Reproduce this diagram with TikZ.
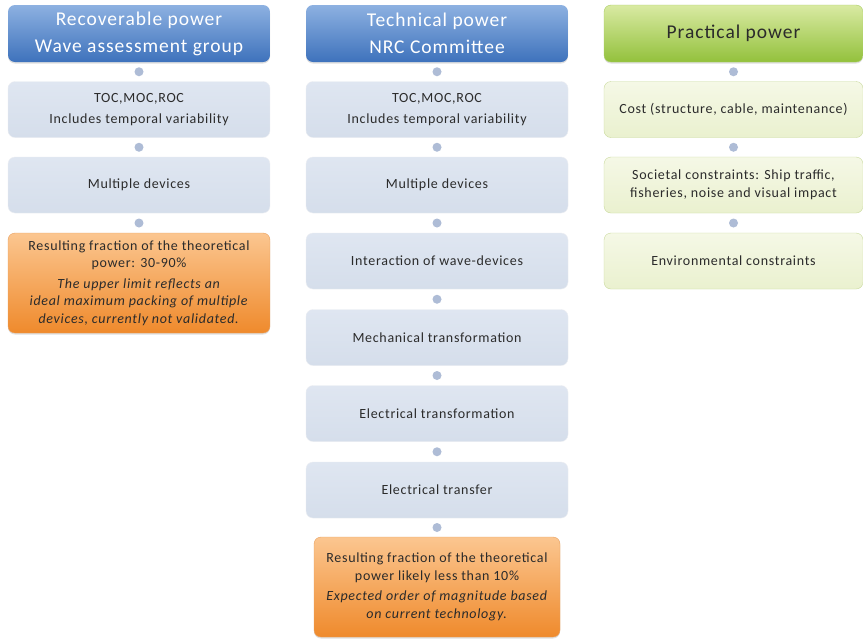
\documentclass[tikz,border=0pt]{standalone}
\usepackage{fontspec}
\setmainfont{Carlito}
\usetikzlibrary{shadows}
\definecolor{hdtop}{HTML}{8DB1E1}
\definecolor{hdbot}{HTML}{3E72BC}
\definecolor{grtop}{HTML}{D9EAA3}
\definecolor{grbot}{HTML}{93C13C}
\definecolor{lbfill}{HTML}{D5DEEB}
\definecolor{lbtop}{HTML}{DFE6F1}
\definecolor{lgtop}{HTML}{F5F8E6}
\definecolor{lgbot}{HTML}{EAF1CF}
\definecolor{lgline}{HTML}{C9DA9C}
\definecolor{ortop}{HTML}{FBC690}
\definecolor{orbot}{HTML}{EF8A2C}
\definecolor{orline}{HTML}{E8A060}
\definecolor{dotc}{HTML}{AEBCD6}
\definecolor{txt}{HTML}{2B2B2B}
\newcommand{\headfont}{\fontsize{19.5}{27}\selectfont\addfontfeatures{LetterSpace=5}}
\newcommand{\bodyfont}{\fontsize{14}{21}\selectfont\addfontfeatures{LetterSpace=5}}
\newcommand{\notefont}{\fontsize{14}{17.5}\selectfont\addfontfeatures{LetterSpace=5}}
\tikzset{
  base/.style={rounded corners=7pt, align=center, text=txt, inner sep=2pt},
  header/.style={base, top color=hdtop, bottom color=hdbot, text=white,
    minimum width=262pt, minimum height=57pt, font=\headfont,
    drop shadow={shadow xshift=0pt, shadow yshift=-1.5pt, opacity=0.25}},
  gheader/.style={base, top color=grtop, bottom color=grbot, draw=grbot!80!white,
    minimum width=259pt, minimum height=57pt, font=\headfont,
    drop shadow={shadow xshift=0pt, shadow yshift=-1.5pt, opacity=0.25}},
  bluebox/.style={base, top color=lbtop, bottom color=lbfill, draw=lbfill!90!black!30!white,
    minimum width=262pt, minimum height=56pt, font=\bodyfont},
  greenbox/.style={base, top color=lgtop, bottom color=lgbot, draw=lgline,
    minimum width=259pt, minimum height=56pt, font=\notefont},
  orangebox/.style={base, top color=ortop, bottom color=orbot, draw=orline,
    font=\notefont,
    drop shadow={shadow xshift=0pt, shadow yshift=-1.5pt, opacity=0.25}},
  joint/.style={circle, fill=dotc, minimum size=9pt, inner sep=0pt}
}
\begin{document}
\begin{tikzpicture}[x=1pt,y=-1pt]
\useasboundingbox[fill=white] (0,0) rectangle (863,638);

% Left column: recoverable power
\node[header] (r0) at (139,33.5) {Recoverable power\\Wave assessment group};
\node[bluebox] (r1) at (139,109.5) {TOC,MOC,ROC\\Includes temporal variability};
\node[bluebox] (r2) at (139,185) {Multiple devices};
\node[orangebox, minimum width=262pt, minimum height=100pt] (r3) at (139,283)
  {Resulting fraction of the theoretical\\power: 30-90\%\\[3pt]
   \textit{The upper limit reflects an}\\\textit{ideal maximum packing of multiple}\\\textit{devices, currently not validated.}};

% Middle column: technical power
\node[header] (t0) at (437,33.5) {Technical power\\NRC Committee};
\node[bluebox] (t1) at (437,109.5) {TOC,MOC,ROC\\Includes temporal variability};
\node[bluebox] (t2) at (437,185) {Multiple devices};
\node[bluebox] (t3) at (437,261) {Interaction of wave-devices};
\node[bluebox] (t4) at (437,337.5) {Mechanical transformation};
\node[bluebox] (t5) at (437,413.5) {Electrical transformation};
\node[bluebox] (t6) at (437,490) {Electrical transfer};
\node[orangebox, minimum width=246pt, minimum height=100pt] (t7) at (437,587)
  {Resulting fraction of the theoretical\\power likely less than 10\%\\[3pt]
   \textit{Expected order of magnitude based}\\\textit{on current technology.}};

% Right column: practical power
\node[gheader] (p0) at (733.5,33.5) {Practical power};
\node[greenbox] (p1) at (733.5,109.5) {Cost (structure, cable, maintenance)};
\node[greenbox] (p2) at (733.5,185) {Societal constraints: Ship traffic,\\fisheries, noise and visual impact};
\node[greenbox] (p3) at (733.5,261) {Environmental constraints};

% Joints between consecutive steps
\foreach \a/\b in {r0/r1,r1/r2,r2/r3,t0/t1,t1/t2,t2/t3,t3/t4,t4/t5,t5/t6,t6/t7,p0/p1,p1/p2,p2/p3}
  \path (\a.south) -- (\b.north) node[midway, joint] {};
\end{tikzpicture}
\end{document}
